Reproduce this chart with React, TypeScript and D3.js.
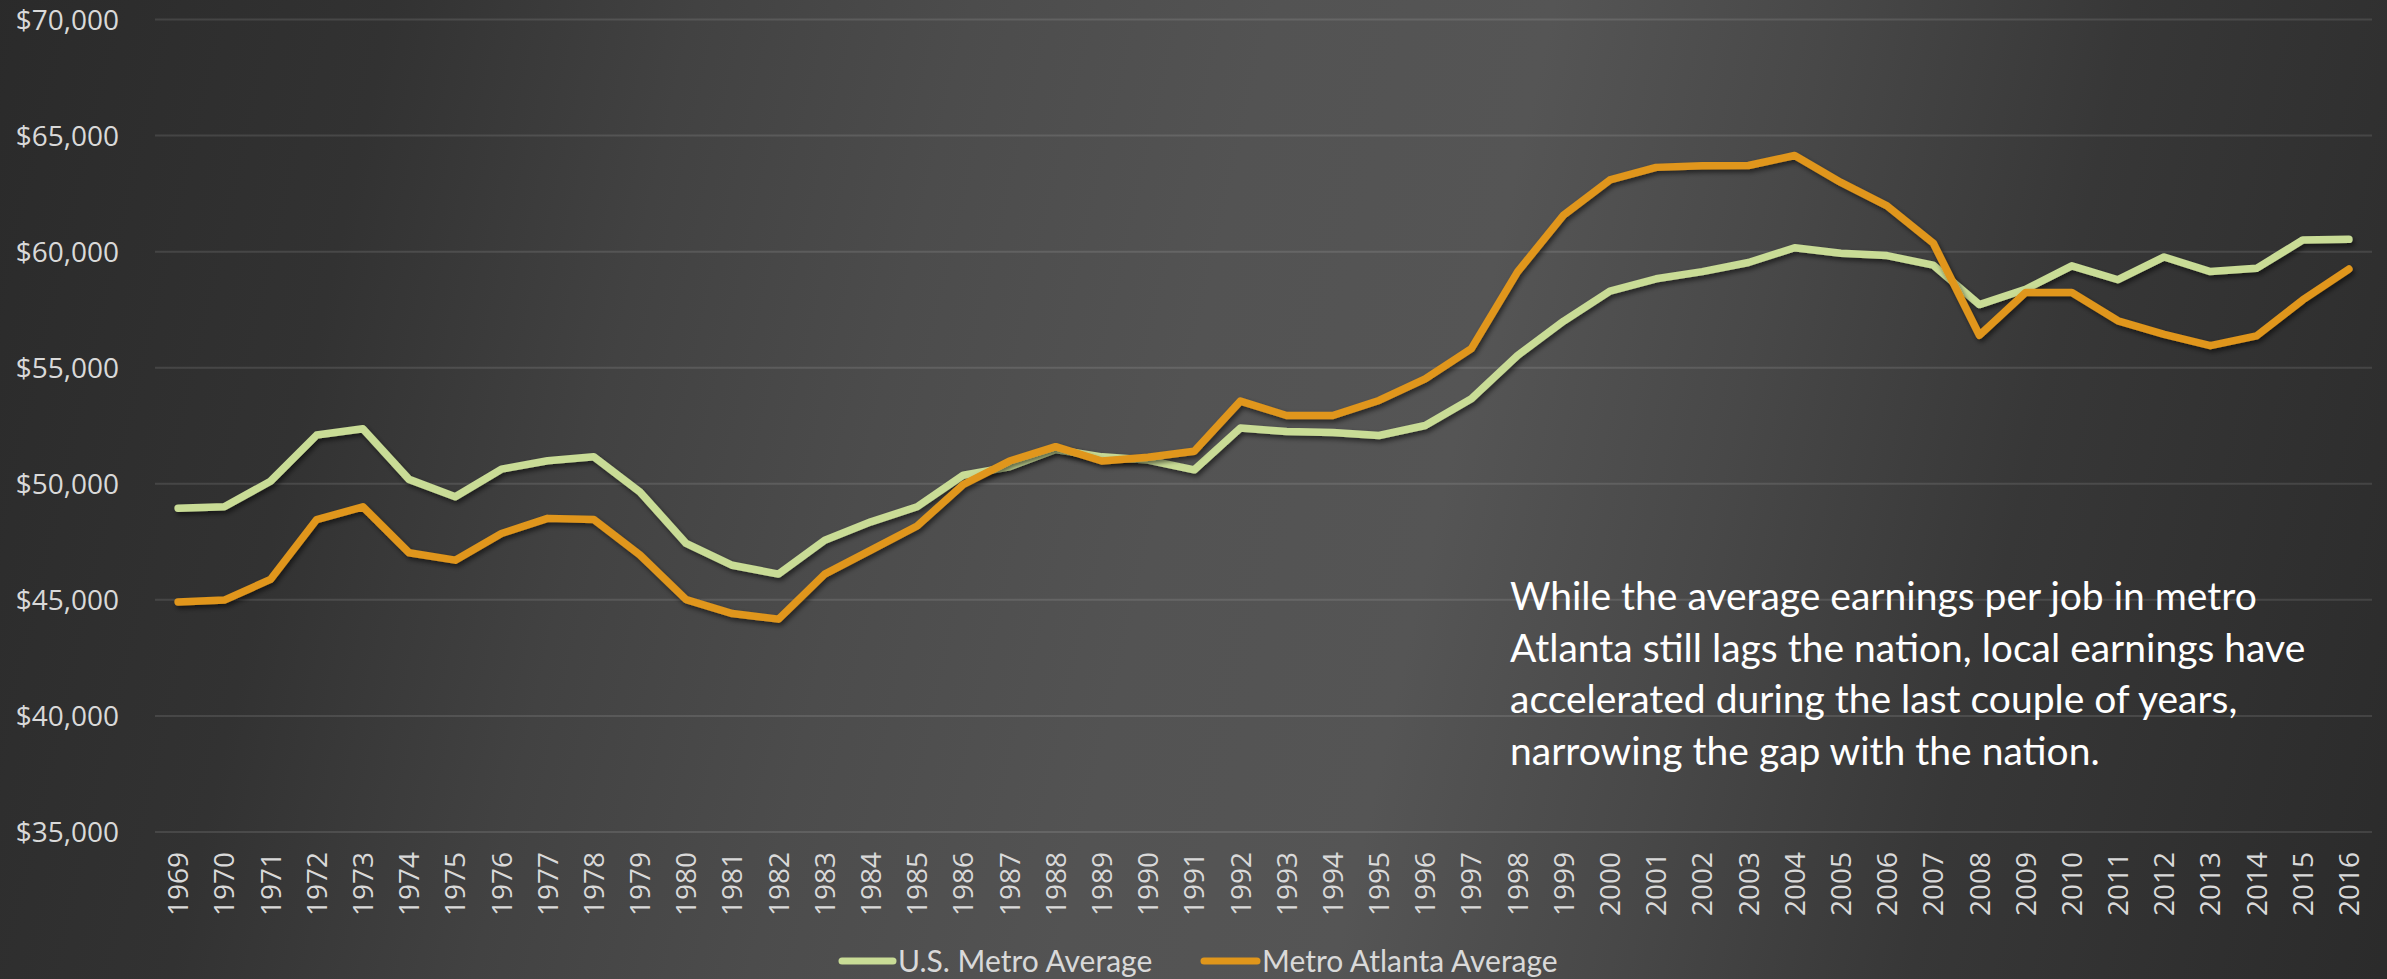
import React from 'react';
import * as d3 from 'd3';

const years = [
  '1969','1970','1971','1972','1973','1974','1975','1976','1977','1978',
  '1979','1980','1981','1982','1983','1984','1985','1986','1987','1988',
  '1989','1990','1991','1992','1993','1994','1995','1996','1997','1998',
  '1999','2000','2001','2002','2003','2004','2005','2006','2007','2008',
  '2009','2010','2011','2012','2013','2014','2015','2016',
];

const usMetro = [
  48950, 49010, 50110, 52100, 52370, 50190, 49440, 50630, 50990, 51160,
  49650, 47430, 46490, 46110, 47570, 48360, 49010, 50370, 50730, 51480,
  51160, 51020, 50600, 52400, 52250, 52210, 52080, 52510, 53660, 55530,
  57010, 58300, 58830, 59140, 59530, 60170, 59930, 59830, 59420, 57720,
  58380, 59390, 58790, 59770, 59140, 59280, 60500, 60530,
];

const atlanta = [
  44910, 44990, 45880, 48460, 49010, 47030, 46710, 47860, 48510, 48460,
  46930, 45010, 44410, 44170, 46110, 47140, 48180, 49970, 50980, 51600,
  50980, 51140, 51400, 53560, 52940, 52940, 53590, 54520, 55820, 59130,
  61580, 63090, 63630, 63700, 63710, 64140, 62980, 61970, 60370, 56400,
  58240, 58240, 57020, 56440, 55950, 56370, 57920, 59250,
];

const yTicks = [35000, 40000, 45000, 50000, 55000, 60000, 65000, 70000];

const seriesNames = ['U.S. Metro Average', 'Metro Atlanta Average'];
const seriesColors = ['#c9dc96', '#e0961b'];

const annotationLines = [
  'While the average earnings per job in metro',
  'Atlanta still lags the nation, local earnings have',
  'accelerated during the last couple of years,',
  'narrowing the gap with the nation.',
];

const W = 2387;
const H = 979;

export default function App() {
  const x = d3.scalePoint<string>().domain(years).range([155, 2372]).padding(0.5);
  const y = d3.scaleLinear().domain([35000, 70000]).range([832, 19.5]);
  const line = d3
    .line<number>()
    .x((_, i) => x(years[i]) as number)
    .y((d) => y(d));

  const series = [usMetro, atlanta];
  const axisFont = "'Open Sans', sans-serif";
  const textFont = "Lato, sans-serif";

  return (
    <svg
      width={W}
      height={H}
      style={{ position: 'absolute', left: 0, top: 0, display: 'block' }}
    >
      <defs>
        <linearGradient id="bg" gradientUnits="userSpaceOnUse" x1={-120} y1={190} x2={2507} y2={790}>
          <stop offset="0" stopColor="#292929" />
          <stop offset="0.17" stopColor="#323232" />
          <stop offset="0.28" stopColor="#424242" />
          <stop offset="0.38" stopColor="#4c4c4c" />
          <stop offset="0.49" stopColor="#535353" />
          <stop offset="0.59" stopColor="#555555" />
          <stop offset="0.69" stopColor="#484848" />
          <stop offset="0.8" stopColor="#373737" />
          <stop offset="0.91" stopColor="#2f2f2f" />
          <stop offset="1" stopColor="#292929" />
        </linearGradient>
        <filter id="shadow" x="-5%" y="-20%" width="110%" height="140%">
          <feDropShadow dx="2" dy="3" stdDeviation="2.5" floodColor="#000" floodOpacity="0.55" />
        </filter>
      </defs>
      <rect x={0} y={0} width={W} height={H} fill="url(#bg)" />

      {yTicks.map((t) => (
        <g key={t}>
          <line x1={155} x2={2372} y1={y(t)} y2={y(t)} stroke="rgba(255,255,255,0.11)" strokeWidth={2} />
          <text
            x={119}
            y={y(t)}
            dy="0.36em"
            textAnchor="end"
            fontFamily={axisFont}
            fontSize={28}
            fill="#d9d9d9"
          >
            {d3.format('$,')(t)}
          </text>
        </g>
      ))}

      {years.map((yr) => (
        <text
          key={yr}
          transform={`translate(${x(yr)},852) rotate(-90)`}
          dy="0.36em"
          textAnchor="end"
          fontFamily={axisFont}
          fontSize={28}
          fill="#d9d9d9"
        >
          {yr}
        </text>
      ))}

      {series.map((s, i) => (
        <path
          key={i}
          d={line(s) || ''}
          fill="none"
          stroke={seriesColors[i]}
          strokeWidth={7.5}
          strokeLinejoin="round"
          strokeLinecap="round"
          filter="url(#shadow)"
        />
      ))}

      <g fontFamily={textFont} fontSize={39} fill="#ffffff">
        {annotationLines.map((l, i) => (
          <text key={i} x={1510} y={610 + i * 51.5}>
            {l}
          </text>
        ))}
      </g>

      <g fontFamily={textFont} fontSize={30} fill="#d9d9d9">
        <line x1={842} x2={893} y1={961} y2={961} stroke={seriesColors[0]} strokeWidth={7} strokeLinecap="round" />
        <text x={898} y={961} dy="0.35em">{seriesNames[0]}</text>
        <line x1={1204} x2={1257} y1={961} y2={961} stroke={seriesColors[1]} strokeWidth={7} strokeLinecap="round" />
        <text x={1262} y={961} dy="0.35em">{seriesNames[1]}</text>
      </g>
    </svg>
  );
}
